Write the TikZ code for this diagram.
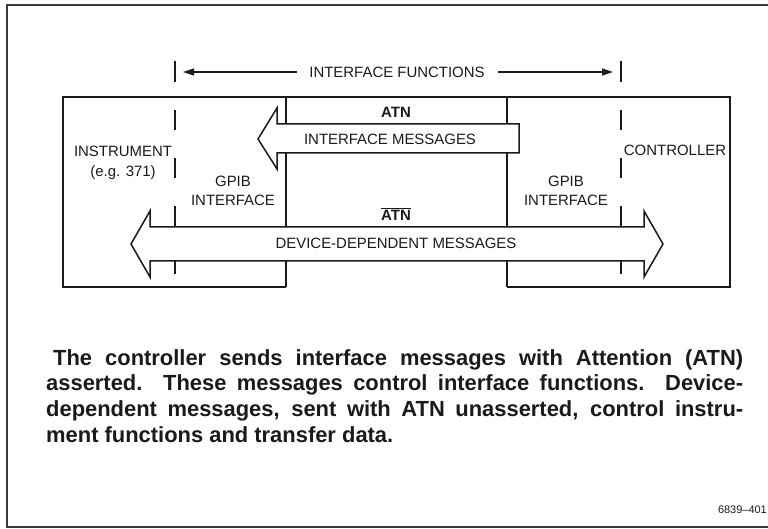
\documentclass[tikz,border=0pt]{standalone}
\usepackage{fontspec}
\setmainfont{Liberation Sans}
\usepackage{xcolor}
\definecolor{cInk}{HTML}{1A1A1A}
\definecolor{cFrame}{HTML}{3A3A3A}
\usetikzlibrary{positioning,arrows.meta}
\tikzset{
  box-line/.style={draw=cInk,line width=1.6bp},
  bus-arrow/.style={draw=cInk,line width=1.5bp,fill=white,line join=miter},
  guide-line/.style={draw=cInk,line width=1.8bp,dash pattern=on 20bp off 28bp},
  dim-arrow/.style={-{Triangle[length=11bp,width=7bp]},draw=cInk,line width=1.2bp},
  dim-bar/.style={draw=cInk,line width=1.8bp},
  lbl/.style={inner sep=0pt,font=\fontsize{15}{19}\selectfont,text=cInk,align=center},
  lbl-bold/.style={lbl,font=\fontsize{15}{19}\selectfont\bfseries},
  caption-text/.style={inner sep=0pt,text width=697bp,align=justify,text=cInk,
    font=\fontsize{22}{26}\selectfont\bfseries},
}

\begin{document}
\begin{tikzpicture}[x=1bp,y=-1bp]
  \useasboundingbox (0,0) rectangle (768,529);
  \draw[draw=cFrame,line width=1.4bp] (7,5) rectangle (770,527);

  % interface functions span
  \node[lbl] (ifun) at (397,72) {INTERFACE FUNCTIONS};
  \coordinate (barL) at (175,72);
  \coordinate (barR) at (621,72);
  \draw[dim-bar] ([yshift=-10bp]barL) -- ([yshift=11bp]barL);
  \draw[dim-bar] ([yshift=-10bp]barR) -- ([yshift=11bp]barR);
  \draw[dim-arrow] ([xshift=-12bp]ifun.west) -- ([xshift=8bp]barL);
  \draw[dim-arrow] ([xshift=13bp]ifun.east) -- ([xshift=-8bp]barR);

  % instrument / bus / controller outline
  \draw[box-line] (286,287) -- (63,287) -- (63,97) -- (730,97) -- (730,287) -- (507,287);
  \draw[box-line] (286,97) -- (286,287) (507,97) -- (507,287);
  \draw[guide-line] (175,110) -- (175,276);
  \draw[guide-line] (621,110) -- (621,276);

  % message arrows
  \draw[bus-arrow] (519,124) -- (277,124) -- (277,108) -- (258,139)
    -- (277,169) -- (277,153) -- (519,153) -- cycle;
  \draw[bus-arrow] (150,227) -- (150,211) -- (131,244) -- (150,277) -- (150,261)
    -- (644,261) -- (644,277) -- (663,244) -- (644,211) -- (644,227) -- cycle;

  \node[lbl-bold] (atn) at (396,112) {ATN};
  \node[lbl] (imsg) at (390,139) {INTERFACE MESSAGES};
  \node[lbl-bold] (natn) at (396,214) {$\overline{\hbox{ATN}}$};
  \node[lbl] (dmsg) at (396,243) {DEVICE-DEPENDENT MESSAGES};
  \node[lbl] (gpibL) at (233,191) {GPIB\\INTERFACE};
  \node[lbl] (gpibR) at (566,191) {GPIB\\INTERFACE};
  \node[lbl] (instr) at (123,151) {INSTRUMENT};
  \node[lbl,below=9bp of instr] (eg) {(e.g. 371)};
  \node[lbl] (ctrl) at (675,150) {CONTROLLER};

  \node[caption-text,anchor=north west] (caption) at (46,349)
    {\hspace*{7bp}The controller sends interface messages with Attention (ATN)\linebreak
     asserted.\ \ These messages control interface functions.\ \ Device-\linebreak
     dependent messages, sent with ATN unasserted, control instru-\linebreak
     ment functions and transfer data.};
  \node[lbl,font=\fontsize{11}{13}\selectfont,anchor=east] (figno) at (767,510) {6839--401};
\end{tikzpicture}
\end{document}
